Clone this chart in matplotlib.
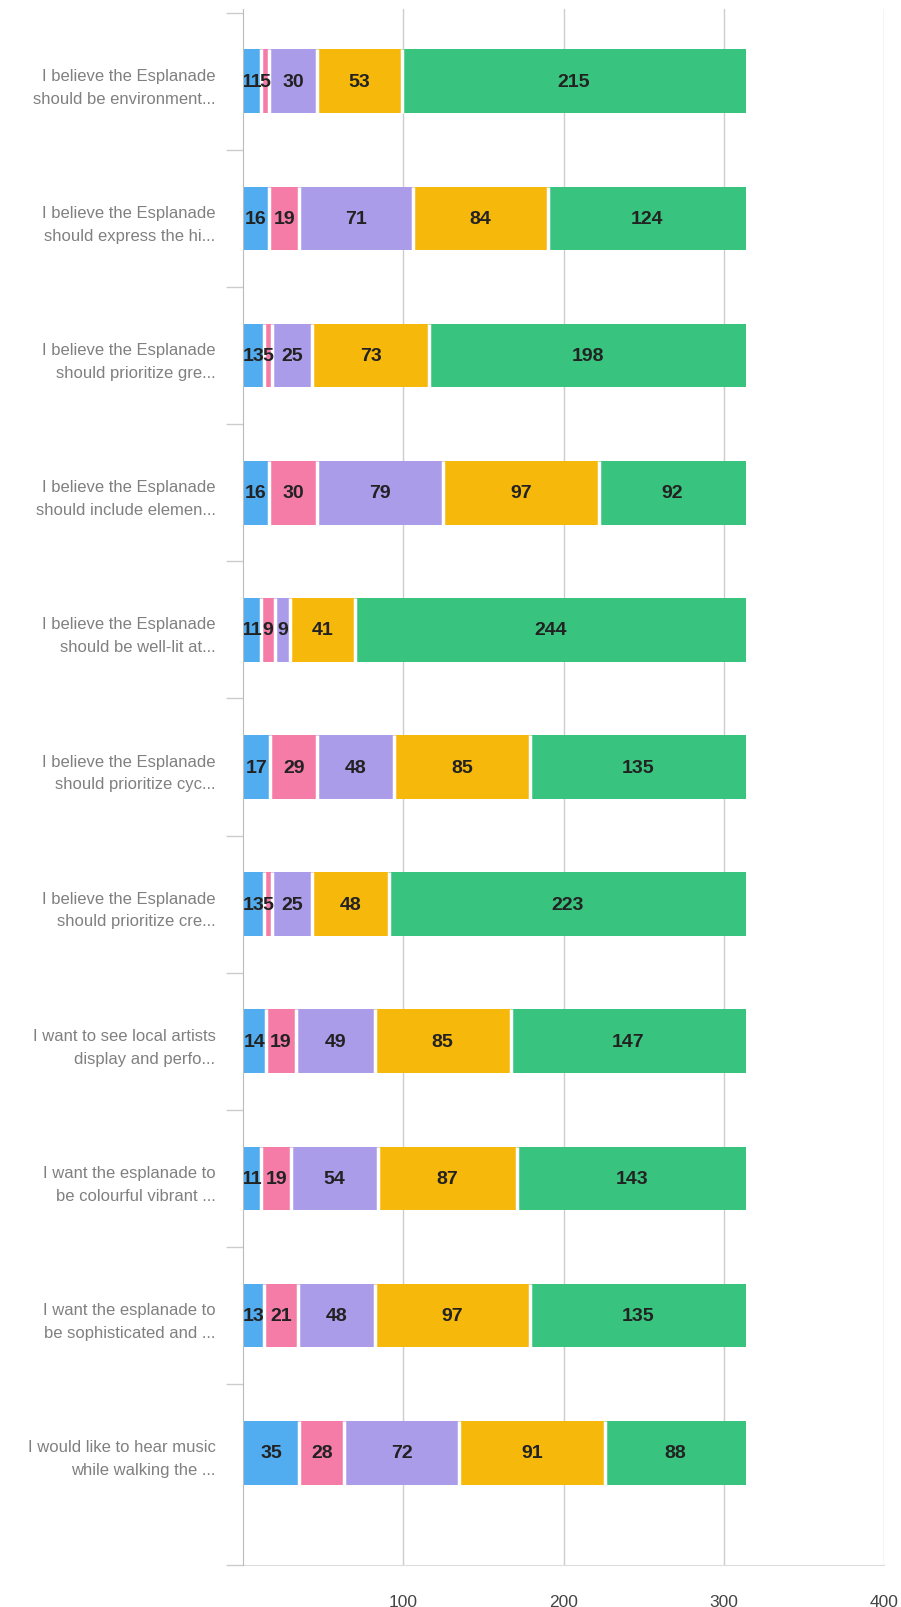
import numpy as np
import matplotlib.pyplot as plt

plt.rcParams['font.family'] = ['Liberation Sans', 'DejaVu Sans']

questions = [
    "I believe the Esplanade\nshould be environment...",
    "I believe the Esplanade\nshould express the hi...",
    "I believe the Esplanade\nshould prioritize gre...",
    "I believe the Esplanade\nshould include elemen...",
    "I believe the Esplanade\nshould be well-lit at...",
    "I believe the Esplanade\nshould prioritize cyc...",
    "I believe the Esplanade\nshould prioritize cre...",
    "I want to see local artists\ndisplay and perfo...",
    "I want the esplanade to\nbe colourful vibrant ...",
    "I want the esplanade to\nbe sophisticated and ...",
    "I would like to hear music\nwhile walking the ...",
]

strongly_disagree = [11, 16, 13, 16, 11, 17, 13, 14, 11, 13, 35]
disagree          = [5, 19, 5, 30, 9, 29, 5, 19, 19, 21, 28]
neutral           = [30, 71, 25, 79, 9, 48, 25, 49, 54, 48, 72]
agree             = [53, 84, 73, 97, 41, 85, 48, 85, 87, 97, 91]
strongly_agree    = [215, 124, 198, 92, 244, 135, 223, 147, 143, 135, 88]

series = [strongly_disagree, disagree, neutral, agree, strongly_agree]
colors = ['#52adf0', '#f47ca7', '#ab9cea', '#f7b80c', '#38c47e']
xticks = [100, 200, 300, 400]

fig = plt.figure(figsize=(9.01, 16.08), dpi=100)
ax = fig.add_axes([0.27, 0.026, 0.711, 0.968])

bar_h = 0.465
y = np.arange(len(questions))
left = np.zeros(len(questions))
for i, (vals, col) in enumerate(zip(series, colors)):
    vals = np.array(vals)
    ax.barh(y, vals, left=left, height=bar_h, color=col, linewidth=0, zorder=3)
    # thin white separator between stacked segments
    if i > 0:
        ax.vlines(left, y - bar_h / 2, y + bar_h / 2, color='white',
                  linewidth=2.5, zorder=3.5)
    for yi, (l, v) in enumerate(zip(left, vals)):
        ax.text(l + v / 2, yi, str(v), ha='center', va='center',
                fontsize=14, fontweight='bold', color='#222222', zorder=4)
    left += vals

ax.set_xlim(0, 400)
ax.set_ylim(10.82, -0.53)

ax.set_xticks(xticks)
ax.set_xticklabels([str(t) for t in xticks], fontsize=12.5, color='#444444')
ax.tick_params(axis='x', length=0, pad=21)
ax.grid(axis='x', color='#cccccc', linewidth=1, zorder=0)

ax.set_yticks(y)
ax.set_yticklabels(questions, fontsize=12, color='#808080', linespacing=1.65)
ax.tick_params(axis='y', which='major', length=0, pad=20)
ax.set_yticks(np.r_[np.arange(-0.5, len(questions) - 0.5, 1), 10.82], minor=True)
ax.tick_params(axis='y', which='minor', length=12, color='#cccccc', width=1)

for s in ['top', 'right']:
    ax.spines[s].set_visible(False)
ax.spines['left'].set_color('#bbbbbb')
ax.spines['left'].set_zorder(5)
ax.spines['bottom'].set_color('#dddddd')

fig.savefig('out.png', dpi=100)
